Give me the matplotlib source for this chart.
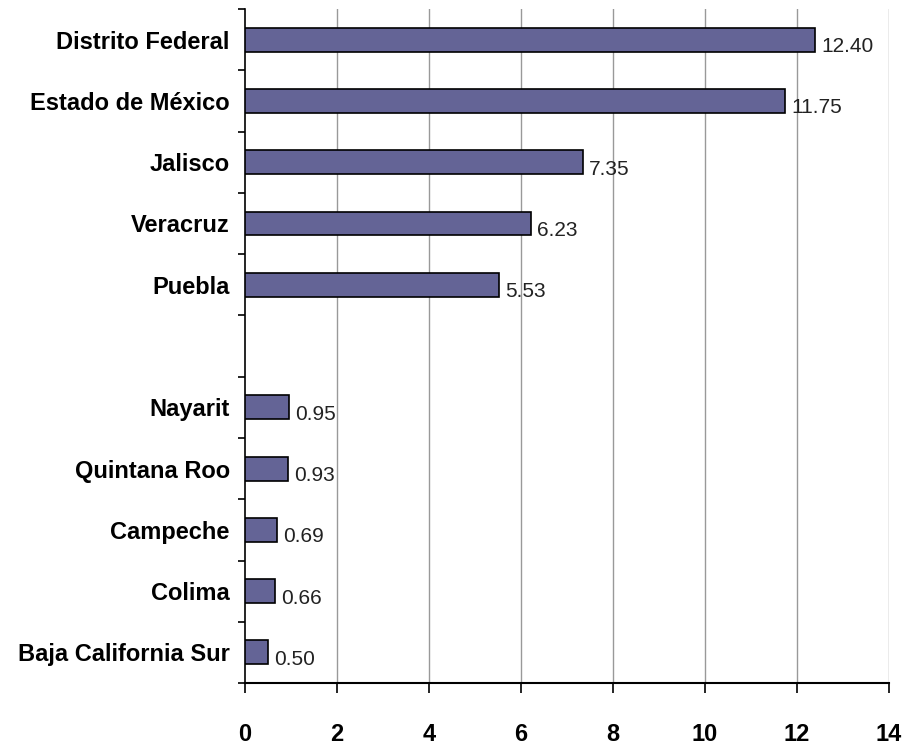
import matplotlib
matplotlib.use("Agg")
import matplotlib.pyplot as plt
import numpy as np

categories = ["Distrito Federal", "Estado de México", "Jalisco", "Veracruz", "Puebla", "",
              "Nayarit", "Quintana Roo", "Campeche", "Colima", "Baja California Sur"]
values = [12.40, 11.75, 7.35, 6.23, 5.53, np.nan, 0.95, 0.93, 0.69, 0.66, 0.50]
xticks = [0, 2, 4, 6, 8, 10, 12, 14]

fam = ['Liberation Sans Narrow', 'Liberation Sans', 'DejaVu Sans']
plt.rcParams['font.family'] = fam

fig = plt.figure(figsize=(9.04, 7.49), dpi=100)
ax = fig.add_axes([0.271, 0.088, 0.712, 0.9])

pos = np.arange(len(categories))
vals = np.array(values, dtype=float)
mask = ~np.isnan(vals)
ax.barh(pos[mask], vals[mask], height=0.39, color='#646496', edgecolor='black', linewidth=1.2, zorder=3)

for p, v in zip(pos[mask], vals[mask]):
    ax.annotate(f"{v:.2f}", xy=(v, p), xytext=(6, -7), textcoords='offset pixels',
                ha='left', va='center', fontsize=15, color='#222222')

ax.set_xlim(0, 14)
ax.set_ylim(len(categories) - 0.5, -0.5)
ax.set_xticks(xticks)
ax.set_xticklabels([str(t) for t in xticks], fontsize=17, fontweight='bold')
ax.set_yticks(pos)
ax.set_yticklabels(categories, fontsize=17, fontweight='bold')
ax.set_yticks(np.arange(-0.5, len(categories), 1.0), minor=True)
ax.tick_params(axis='y', which='major', length=0, pad=11)
ax.tick_params(axis='y', which='minor', length=5, width=1.2, direction='out')
ax.tick_params(axis='x', which='major', length=7, width=1.2, direction='out', pad=22)

for t in xticks[1:]:
    ax.axvline(t, color='#999999', linewidth=1.0, zorder=1)

ax.spines['top'].set_visible(False)
ax.spines['right'].set_visible(False)
ax.spines['left'].set_linewidth(1.2)
ax.spines['bottom'].set_linewidth(1.5)

fig.savefig("out.png", dpi=100)
